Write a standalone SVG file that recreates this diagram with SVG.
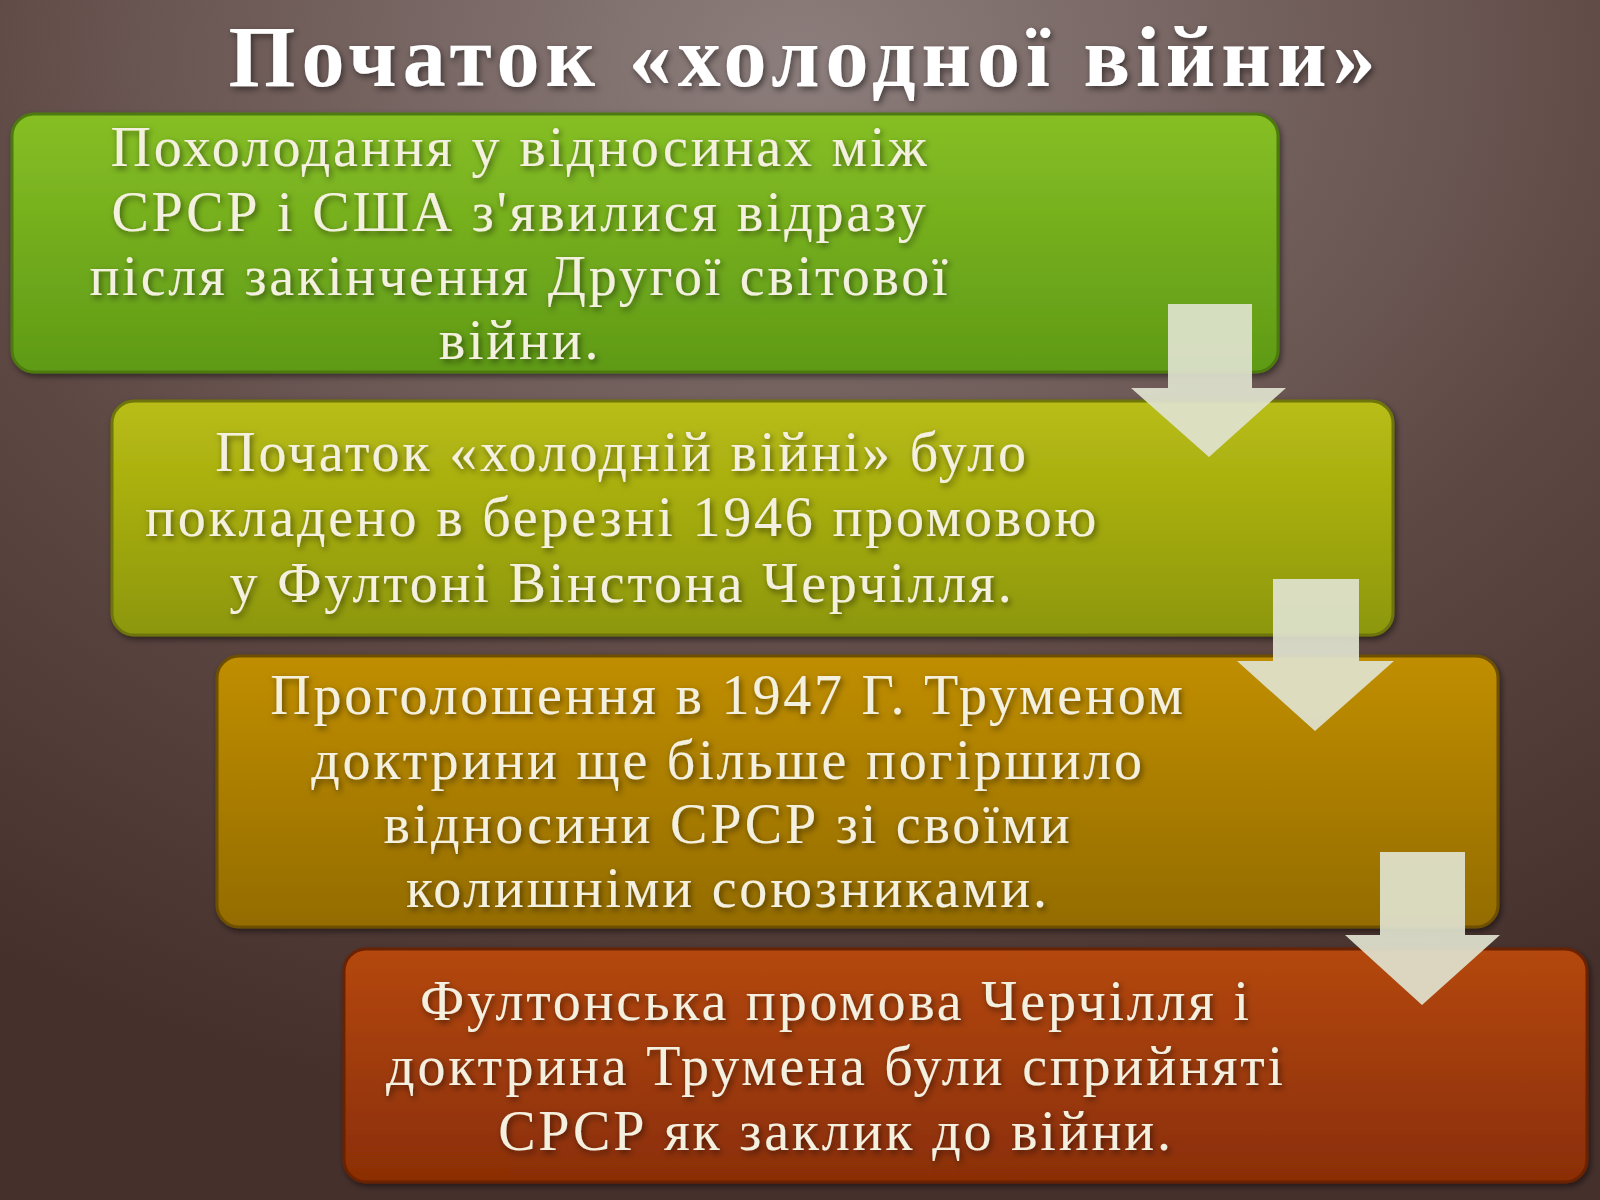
<svg xmlns="http://www.w3.org/2000/svg" width="1600" height="1200" viewBox="0 0 1600 1200">
<defs>
<radialGradient id="bg" cx="0.5" cy="0.05" r="0.9">
<stop offset="0" stop-color="#8c7e7c"/><stop offset="0.6" stop-color="#5e4844"/><stop offset="1" stop-color="#45302c"/>
</radialGradient>
<linearGradient id="g1" x1="0" y1="0" x2="0" y2="1"><stop offset="0" stop-color="#86bf24"/><stop offset="1" stop-color="#5f9a16"/></linearGradient>
<linearGradient id="g2" x1="0" y1="0" x2="0" y2="1"><stop offset="0" stop-color="#b9bd14"/><stop offset="1" stop-color="#8d970a"/></linearGradient>
<linearGradient id="g3" x1="0" y1="0" x2="0" y2="1"><stop offset="0" stop-color="#c08e02"/><stop offset="1" stop-color="#946c00"/></linearGradient>
<linearGradient id="g4" x1="0" y1="0" x2="0" y2="1"><stop offset="0" stop-color="#b4480c"/><stop offset="1" stop-color="#8a2e06"/></linearGradient>
<filter id="sh" x="-5%" y="-5%" width="110%" height="115%"><feDropShadow dx="2" dy="3" stdDeviation="3" flood-color="#000" flood-opacity="0.5"/></filter>
</defs>
<style>
.box{stroke-width:3;filter:url(#sh)}
.t{font-family:"Liberation Serif","Times New Roman",serif;font-size:56px;letter-spacing:2.8px;fill:#f4f0e0;text-anchor:middle}
.ti{font-family:"Liberation Serif","Times New Roman",serif;font-size:86px;letter-spacing:6px;font-weight:bold;fill:#ffffff;text-anchor:middle}
.arr{fill:#dfe3cf;opacity:0.92}
</style>
<rect width="1600" height="1200" fill="url(#bg)"/>
<text class="ti" x="805" y="86" style="filter:url(#sh)">Початок «холодної війни»</text>
<g id="n1"><rect class="box" x="12" y="114" width="1266" height="258" rx="22" fill="url(#g1)" stroke="#4d7a10"/>
<g class="t" style="filter:url(#sh)"><text x="520" y="166">Похолодання у відносинах між</text><text x="520" y="231">СРСР і США з'явилися відразу</text><text x="520" y="295">після закінчення Другої світової</text><text x="520" y="359">війни.</text></g></g>
<g id="n2"><rect class="box" x="112" y="401" width="1281" height="234" rx="22" fill="url(#g2)" stroke="#6e7508"/>
<g class="t" style="filter:url(#sh)"><text x="622" y="471">Початок «холодній війні» було</text><text x="622" y="536">покладено в березні 1946 промовою</text><text x="622" y="602">у Фултоні Вінстона Черчілля.</text></g></g>
<g id="n3"><rect class="box" x="217" y="656" width="1281" height="271" rx="22" fill="url(#g3)" stroke="#6e5000"/>
<g class="t" style="filter:url(#sh)"><text x="728" y="714">Проголошення в 1947 Г. Труменом</text><text x="728" y="779">доктрини ще більше погіршило</text><text x="728" y="843">відносини СРСР зі своїми</text><text x="728" y="907">колишніми союзниками.</text></g></g>
<g id="n4"><rect class="box" x="344" y="949" width="1243" height="233" rx="22" fill="url(#g4)" stroke="#6a2204"/>
<g class="t" style="filter:url(#sh)"><text x="836" y="1020">Фултонська промова Черчілля і</text><text x="836" y="1085">доктрина Трумена були сприйняті</text><text x="836" y="1150">СРСР як заклик до війни.</text></g></g>
<g id="connectors">
<polygon class="arr" points="1168,304 1252,304 1252,388 1286,388 1209,457 1131,388 1168,388"/>
<polygon class="arr" points="1273,579 1359,579 1359,661 1394,661 1315,731 1237,661 1273,661"/>
<polygon class="arr" points="1380,852 1465,852 1465,935 1500,935 1422,1005 1345,935 1380,935"/>
</g>
</svg>
